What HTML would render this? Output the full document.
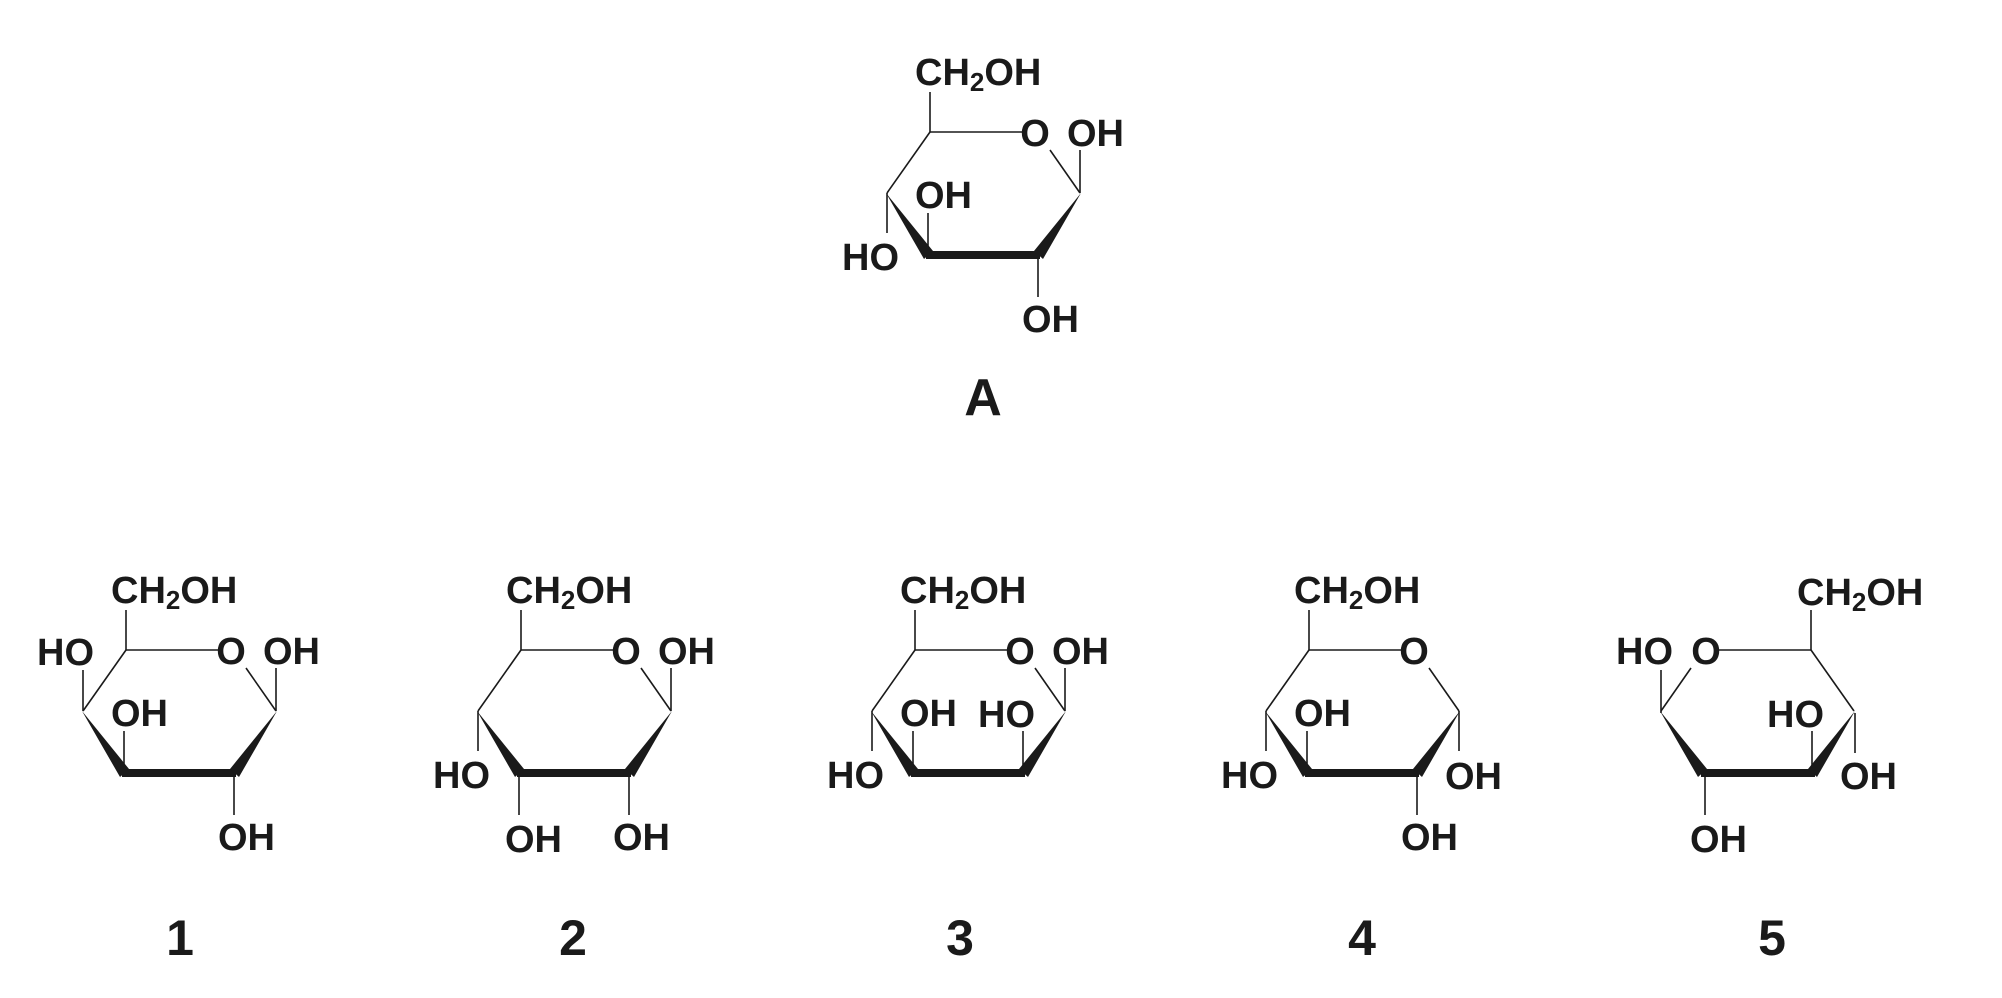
<!DOCTYPE html>
<html><head><meta charset="utf-8"><style>
html,body{margin:0;padding:0;background:#fff;}
svg{display:block}
text{font-family:"Liberation Sans",Arial,sans-serif;fill:#1a1a1a;font-size:38px;font-weight:bold;}
.lab{font-family:"Liberation Sans Narrow","Liberation Sans",sans-serif;font-weight:bold;font-size:50px;text-anchor:middle}
line{stroke:#1a1a1a;stroke-width:1.6}
polygon,rect{fill:#1a1a1a}
</style></head><body>
<svg width="2002" height="998" viewBox="0 0 2002 998" xmlns="http://www.w3.org/2000/svg">
<defs>
<g id="ring">
<line x1="930" y1="132" x2="1022" y2="132"/>
<line x1="930" y1="132" x2="887" y2="193"/>
<line x1="1080" y1="193" x2="1050" y2="150"/>
<line x1="930" y1="132" x2="930" y2="92"/>
<polygon points="886,193 924,259 933,251"/>
<rect x="926" y="251" width="114" height="8"/>
<polygon points="1034,251 1043,259 1081,193"/>
</g>
</defs>

<!-- A -->
<g>
<use href="#ring"/>
<text x="915" y="85">CH<tspan font-size="26" dy="6">2</tspan><tspan dy="-6">OH</tspan></text>
<text x="1035" y="146" text-anchor="middle">O</text>
<line x1="1080" y1="193" x2="1080" y2="150"/><text x="1067" y="146">OH</text>
<line x1="928" y1="255" x2="928" y2="213"/><text x="915" y="208">OH</text>
<line x1="887" y1="193" x2="887" y2="233"/><text x="842" y="270">HO</text>
<line x1="1038" y1="255" x2="1038" y2="297"/><text x="1022" y="332">OH</text>
<text class="lab" x="983" y="415" style="font-family:'Liberation Sans',sans-serif;font-size:52px">A</text>
</g>

<!-- 1 -->
<g transform="translate(-804,518)">
<use href="#ring"/>
<text x="915" y="85">CH<tspan font-size="26" dy="6">2</tspan><tspan dy="-6">OH</tspan></text>
<text x="1035" y="146" text-anchor="middle">O</text>
<line x1="1080" y1="193" x2="1080" y2="150"/><text x="1067" y="146">OH</text>
<line x1="928" y1="255" x2="928" y2="213"/><text x="915" y="208">OH</text>
<line x1="887" y1="193" x2="887" y2="152"/><text x="841" y="147">HO</text>
<line x1="1038" y1="255" x2="1038" y2="297"/><text x="1022" y="332">OH</text>
</g>
<text class="lab" x="180" y="955">1</text>

<!-- 2 -->
<g transform="translate(-409,518)">
<use href="#ring"/>
<text x="915" y="85">CH<tspan font-size="26" dy="6">2</tspan><tspan dy="-6">OH</tspan></text>
<text x="1035" y="146" text-anchor="middle">O</text>
<line x1="1080" y1="193" x2="1080" y2="150"/><text x="1067" y="146">OH</text>
<line x1="928" y1="255" x2="928" y2="297"/><text x="914" y="334">OH</text>
<line x1="887" y1="193" x2="887" y2="233"/><text x="842" y="270">HO</text>
<line x1="1038" y1="255" x2="1038" y2="297"/><text x="1022" y="332">OH</text>
</g>
<text class="lab" x="573" y="955">2</text>

<!-- 3 -->
<g transform="translate(-15,518)">
<use href="#ring"/>
<text x="915" y="85">CH<tspan font-size="26" dy="6">2</tspan><tspan dy="-6">OH</tspan></text>
<text x="1035" y="146" text-anchor="middle">O</text>
<line x1="1080" y1="193" x2="1080" y2="150"/><text x="1067" y="146">OH</text>
<line x1="928" y1="255" x2="928" y2="213"/><text x="915" y="208">OH</text>
<line x1="887" y1="193" x2="887" y2="233"/><text x="842" y="270">HO</text>
<line x1="1038" y1="255" x2="1038" y2="213"/><text x="993" y="209">HO</text>
</g>
<text class="lab" x="960" y="955">3</text>

<!-- 4 -->
<g transform="translate(379,518)">
<use href="#ring"/>
<text x="915" y="85">CH<tspan font-size="26" dy="6">2</tspan><tspan dy="-6">OH</tspan></text>
<text x="1035" y="146" text-anchor="middle">O</text>
<line x1="1080" y1="193" x2="1080" y2="233"/><text x="1066" y="271">OH</text>
<line x1="928" y1="255" x2="928" y2="213"/><text x="915" y="208">OH</text>
<line x1="887" y1="193" x2="887" y2="233"/><text x="842" y="270">HO</text>
<line x1="1038" y1="255" x2="1038" y2="297"/><text x="1022" y="332">OH</text>
</g>
<text class="lab" x="1362" y="955">4</text>

<!-- 5 (mirrored) -->
<g>
<g transform="translate(2741,518) scale(-1,1)"><use href="#ring"/></g>
<text x="1797" y="605">CH<tspan font-size="26" dy="6">2</tspan><tspan dy="-6">OH</tspan></text>
<text x="1706" y="664" text-anchor="middle">O</text>
<line x1="1661" y1="713" x2="1661" y2="670"/><text x="1616" y="664">HO</text>
<line x1="1812" y1="775" x2="1812" y2="731"/><text x="1767" y="727">HO</text>
<line x1="1855" y1="713" x2="1855" y2="753"/><text x="1840" y="789">OH</text>
<line x1="1705" y1="775" x2="1705" y2="815"/><text x="1690" y="852">OH</text>
</g>
<text class="lab" x="1772" y="955">5</text>
</svg>
</body></html>
